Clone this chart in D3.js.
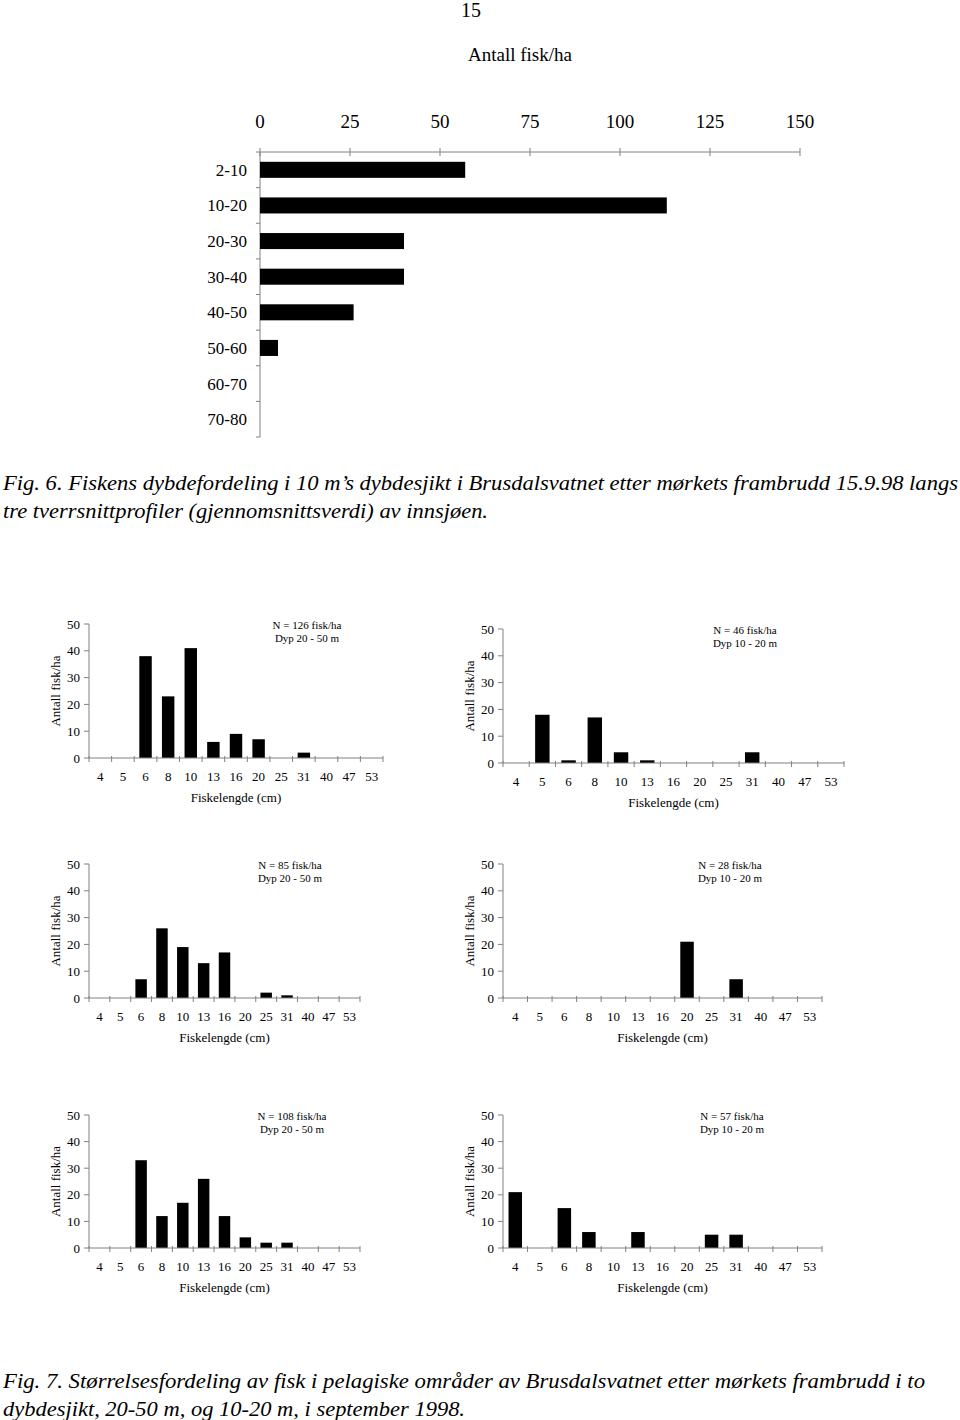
<!DOCTYPE html>
<html><head><meta charset="utf-8">
<script src="https://cdn.jsdelivr.net/npm/d3@7"></script>
<style>
body{margin:0;background:#fff;}
svg{display:block;}
text{font-family:"Liberation Serif","Times New Roman",serif;fill:#000;}
</style></head>
<body>
<svg id="c" width="960" height="1420"></svg>
<script>
// ---- Data ----
const depthCats = ["2-10","10-20","20-30","30-40","40-50","50-60","60-70","70-80"];
const depthValues = [57,113,40,40,26,5,0,0];
const depthTicks = [0,25,50,75,100,125,150];

const lengthCats = ["4","5","6","8","10","13","16","20","25","31","40","47","53"];
const yTicks = [0,10,20,30,40,50];
const p1Values = [0,0,38,23,41,6,9,7,0,2,0,0,0];
const p2Values = [0,18,1,17,4,1,0,0,0,4,0,0,0];
const p3Values = [0,0,7,26,19,13,17,0,2,1,0,0,0];
const p4Values = [0,0,0,0,0,0,0,21,0,7,0,0,0];
const p5Values = [0,0,33,12,17,26,12,4,2,2,0,0,0];
const p6Values = [21,0,15,6,0,6,0,0,5,5,0,0,0];
const panelN = ["N = 126  fisk/ha","N = 46  fisk/ha","N = 85  fisk/ha","N = 28  fisk/ha","N = 108  fisk/ha","N = 57  fisk/ha"];
const panelDyp = ["Dyp 20 - 50 m","Dyp 10 - 20 m","Dyp 20 - 50 m","Dyp 10 - 20 m","Dyp 20 - 50 m","Dyp 10 - 20 m"];

const svg = d3.select("#c");
const axisCol = "#808080";

// ---- Header ----
svg.append("text").attr("x",471).attr("y",17).attr("text-anchor","middle").style("font-size","20px").text("15");
svg.append("text").attr("x",520).attr("y",61).attr("text-anchor","middle").style("font-size","19px").text("Antall fisk/ha");

// ---- Top horizontal bar chart ----
(function(){
  const x = d3.scaleLinear().domain([0,150]).range([260,800]);
  const y = d3.scaleBand().domain(depthCats).range([152,437]).paddingInner(0.55).paddingOuter(0.275);
  const g = svg.append("g");
  g.append("line").attr("x1",260).attr("x2",800).attr("y1",152).attr("y2",152).attr("stroke",axisCol);
  depthTicks.forEach(t=>{
    g.append("line").attr("x1",x(t)).attr("x2",x(t)).attr("y1",148).attr("y2",156).attr("stroke",axisCol);
    g.append("text").attr("x",x(t)).attr("y",128).attr("text-anchor","middle").style("font-size","19px").text(t);
  });
  g.append("line").attr("x1",260).attr("x2",260).attr("y1",152).attr("y2",437).attr("stroke",axisCol);
  const step = y.step();
  d3.range(depthCats.length+1).forEach(i=>{
    const yy = 152 + i*step;
    g.append("line").attr("x1",256).attr("x2",260).attr("y1",yy).attr("y2",yy).attr("stroke",axisCol);
  });
  depthCats.forEach(c=>{
    g.append("text").attr("x",247).attr("y",y(c)+y.bandwidth()/2+6).attr("text-anchor","end").style("font-size","17px").text(c);
  });
  g.selectAll("rect.b").data(depthValues).enter().append("rect")
    .attr("x",x(0)).attr("y",(d,i)=>y(depthCats[i]))
    .attr("width",d=>x(d)-x(0)).attr("height",y.bandwidth()).attr("fill","#000");
})();

// ---- Captions ----
function caption(lines, y0){
  lines.forEach((l,i)=>{
    svg.append("text").attr("x",l.x).attr("y",y0+i*28).style("font-size","21px").style("font-style","italic")
      .attr("textLength", l.len||null).attr("lengthAdjust","spacingAndGlyphs").text(l.t);
  });
}
caption([{x:3,t:"Fig. 6. Fiskens dybdefordeling i 10 m\u2019s dybdesjikt i Brusdalsvatnet etter m\u00f8rkets frambrudd 15.9.98 langs",len:955},
         {x:3,t:"tre tverrsnittprofiler (gjennomsnittsverdi) av innsj\u00f8en.",len:485}], 490);
caption([{x:3,t:"Fig. 7.  St\u00f8rrelsesfordeling av fisk i pelagiske omr\u00e5der av Brusdalsvatnet etter m\u00f8rkets frambrudd i to",len:922},
         {x:3,t:"dybdesjikt, 20-50 m, og 10-20 m, i september 1998.",len:462}], 1388);

// ---- Small panels ----
const panels = [
  {vals:p1Values, x0:89,  x1:383, yt:624,  yb:758},
  {vals:p2Values, x0:503, x1:844, yt:629,  yb:763},
  {vals:p3Values, x0:89,  x1:360, yt:864,  yb:998},
  {vals:p4Values, x0:503, x1:822, yt:864,  yb:998},
  {vals:p5Values, x0:89,  x1:360, yt:1115, yb:1248},
  {vals:p6Values, x0:503, x1:822, yt:1115, yb:1248}
];
panels.forEach((p,pi)=>{
  const g = svg.append("g");
  const x = d3.scaleBand().domain(lengthCats).range([p.x0,p.x1]).paddingInner(0.45).paddingOuter(0.225);
  const y = d3.scaleLinear().domain([0,50]).range([p.yb,p.yt]);
  g.selectAll("rect").data(p.vals).enter().append("rect")
    .attr("x",(d,i)=>x(lengthCats[i])).attr("y",d=>y(d))
    .attr("width",x.bandwidth()).attr("height",d=>y(0)-y(d)).attr("fill","#000");
  g.append("line").attr("x1",p.x0).attr("x2",p.x0).attr("y1",p.yt).attr("y2",p.yb).attr("stroke",axisCol);
  yTicks.forEach(t=>{
    g.append("line").attr("x1",p.x0-5).attr("x2",p.x0).attr("y1",y(t)).attr("y2",y(t)).attr("stroke",axisCol);
    g.append("text").attr("x",p.x0-9).attr("y",y(t)+4.5).attr("text-anchor","end").style("font-size","13px").text(t);
  });
  g.append("line").attr("x1",p.x0).attr("x2",p.x1).attr("y1",p.yb).attr("y2",p.yb).attr("stroke",axisCol);
  const st = x.step();
  d3.range(lengthCats.length+1).forEach(i=>{
    const xx = p.x0 + i*st;
    g.append("line").attr("x1",xx).attr("x2",xx).attr("y1",p.yb-2).attr("y2",p.yb+4).attr("stroke",axisCol);
  });
  lengthCats.forEach(c=>{
    g.append("text").attr("x",x(c)+x.bandwidth()/2).attr("y",p.yb+23).attr("text-anchor","middle").style("font-size","13px").text(c);
  });
  const cx = (p.x0+p.x1)/2;
  g.append("text").attr("x",cx).attr("y",p.yb+44).attr("text-anchor","middle").style("font-size","13px").text("Fiskelengde (cm)");
  const cy = (p.yt+p.yb)/2;
  g.append("text").attr("transform",`translate(${p.x0-29},${cy}) rotate(-90)`).attr("text-anchor","middle").style("font-size","13px").text("Antall fisk/ha");
  const nx = [307,745,290,730,292,732][pi];
  g.append("text").attr("x",nx).attr("y",p.yt+5).attr("text-anchor","middle").style("font-size","11px").text(panelN[pi]);
  g.append("text").attr("x",nx).attr("y",p.yt+18).attr("text-anchor","middle").style("font-size","11px").text(panelDyp[pi]);
});
</script>
</body></html>
